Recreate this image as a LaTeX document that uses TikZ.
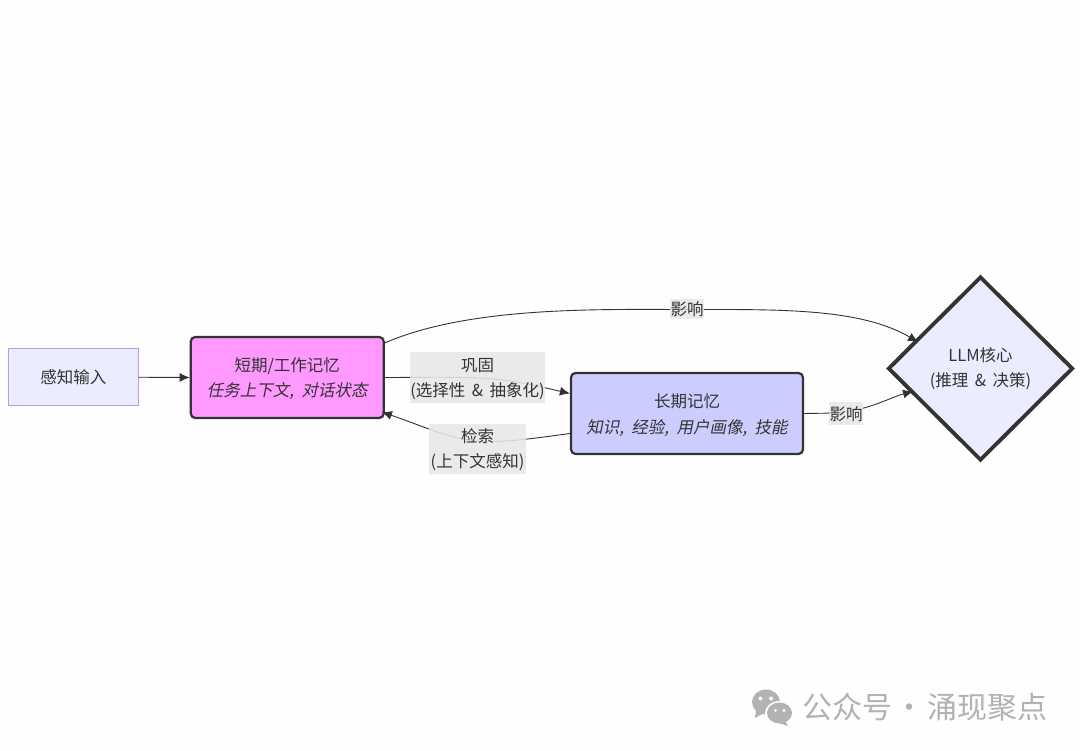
\documentclass[tikz,border=0pt]{standalone}
\usepackage{fontspec}
\setmainfont{Noto Sans CJK SC}
\newfontfamily\slantcjk[FakeSlant=0.2]{Noto Sans CJK SC}
\usetikzlibrary{shapes.geometric,arrows.meta,calc}
\definecolor{ink}{HTML}{333333}
\definecolor{pagebg}{HTML}{FEFEFE}
\definecolor{lilac}{HTML}{ECECFF}
\definecolor{lilacline}{HTML}{B69CEB}
\definecolor{pinkfill}{HTML}{FF99FF}
\definecolor{bluefill}{HTML}{CCCCFF}
\definecolor{labelbg}{HTML}{E8E8E8}
\definecolor{wmgrey}{HTML}{B2B2B2}
\newcommand\firstlow[1]{\rule{0pt}{#1pt}}
\newcommand\gapa{\hspace{6.5pt}}
\newcommand\gapb{\hspace{7.5pt}}
\tikzset{
  x=1pt,y=-1pt,
  every node/.style={text=ink,font=\fontsize{16.5}{25}\selectfont,align=center,inner sep=0pt},
  inputbox/.style={draw=lilacline,fill=lilac,line width=1pt,minimum width=129.5,minimum height=56.5},
  memorybox/.style={draw=ink,line width=2.2pt,rounded corners=4.5pt,minimum height=81},
  corebox/.style={diamond,aspect=1,draw=ink,line width=3.8pt,fill=lilac,minimum width=185,minimum height=184},
  edge/.style={draw=ink,line width=.9pt,-{Latex[length=10pt,width=9pt]}},
  edgelabel/.style={fill=labelbg,fill opacity=.88,text opacity=1},
}
\begin{document}
\begin{tikzpicture}
\useasboundingbox (0,0) rectangle (1080,751);
\fill[pagebg] (0,0) rectangle (1080,751);

\node[inputbox] (input) at (73.25,377.25) {感知输入};
\node[memorybox,fill=pinkfill,minimum width=193] (short) at (287.25,377.5) {\firstlow{17}短期/工作记忆\\[0pt]{\slantcjk 任务上下文,\gapb 对话状态}};
\node[memorybox,fill=bluefill,minimum width=232] (long) at (687,413.5) {\firstlow{18}长期记忆\\[1pt]{\slantcjk 知识,\gapb 经验,\gapb 用户画像,\gapb 技能}};
\node[corebox] (core) at (980.5,368.5) {LLM核心\\(推理\gapa\&\gapa 决策)};

\draw[edge] (input.east) -- (short.west);
\draw[edge] ($(short.north east)+(0,7)$) .. controls (470,306) and (600,309.5) .. (687,309.5)
  .. controls (780,309.5) and (860,308) .. ($(core.west)+(32,-26.5)$);
\draw[edge] (short.east) .. controls (430,377.5) and (480,376) .. (510,381)
  .. controls (535,385) and (550,389) .. ($(long.west)+(0,-20)$);
\draw[edge] ($(long.west)+(0,20)$) .. controls (530,439) and (500,443) .. (477,441)
  .. controls (450,439) and (420,425) .. ($(short.south east)+(-3,-7)$);
\draw[edge] (long.east) .. controls (825,413) and (840,414) .. (860,409)
  .. controls (880,404) and (895,396) .. ($(core.west)+(27,23)$);

\node[edgelabel,minimum width=34,minimum height=20] (lab1) at (687,309) {影响};
\node[edgelabel,minimum width=135,minimum height=51] (lab2) at (477.5,377.5) {\firstlow{17}巩固\\(选择性\gapa\&\gapa 抽象化)};
\node[edgelabel,minimum width=97,minimum height=50] (lab3) at (477.5,449) {\firstlow{16}检索\\(上下文感知)};
\node[edgelabel,minimum width=34,minimum height=23] (lab4) at (846,414) {影响};

% watermark
\fill[wmgrey] (766,702) ellipse [x radius=14,y radius=12.5];
\fill[wmgrey] (756,710) -- (755,718) -- (764,713) -- cycle;
\fill[pagebg] (779.5,713) ellipse [x radius=14.5,y radius=12];
\fill[wmgrey] (779.5,713) ellipse [x radius=12.5,y radius=10.5];
\fill[wmgrey] (785,721) -- (788,726) -- (779,723) -- cycle;
\fill[pagebg] (760.5,698.5) circle (2) (771,698.5) circle (2) (775.5,710.5) circle (1.6) (784,710.5) circle (1.6);
\node[text=wmgrey,font=\fontsize{30}{31}\selectfont,anchor=west] (brand) at (802,707.5) {公众号\makebox[35pt][c]{·}涌现聚点};
\end{tikzpicture}
\end{document}
